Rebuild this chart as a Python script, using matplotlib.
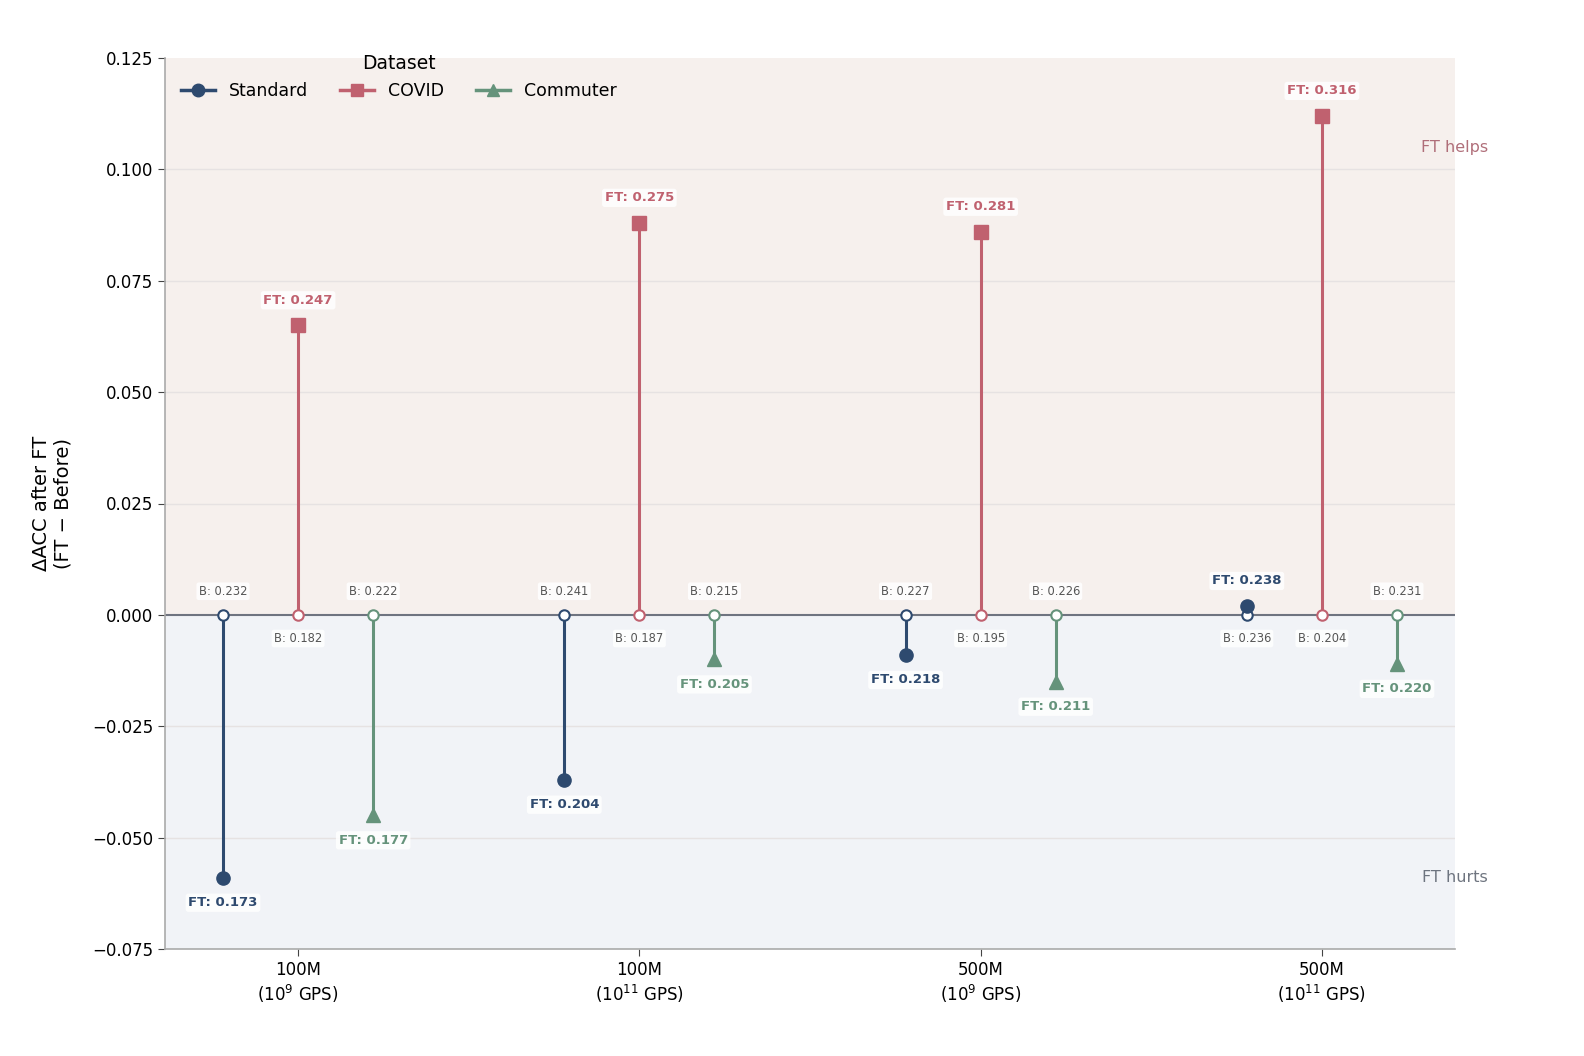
import matplotlib
matplotlib.use("Agg")
import matplotlib.pyplot as plt
import matplotlib.transforms as mtransforms
import numpy as np

groups = ["100M\n($10^{9}$ GPS)", "100M\n($10^{11}$ GPS)", "500M\n($10^{9}$ GPS)", "500M\n($10^{11}$ GPS)"]
datasets = ["Standard", "COVID", "Commuter"]
before = {
    "Standard": [0.232, 0.241, 0.227, 0.236],
    "COVID": [0.182, 0.187, 0.195, 0.204],
    "Commuter": [0.222, 0.215, 0.226, 0.231],
}
after_ft = {
    "Standard": [0.173, 0.204, 0.218, 0.238],
    "COVID": [0.247, 0.275, 0.281, 0.316],
    "Commuter": [0.177, 0.205, 0.211, 0.220],
}
colors = {"Standard": "#2e4a6f", "COVID": "#c0616f", "Commuter": "#65937b"}
markers = {"Standard": "o", "COVID": "s", "Commuter": "^"}
offsets = {"Standard": -0.22, "COVID": 0.0, "Commuter": 0.22}

fig = plt.figure(figsize=(15.84, 10.56), dpi=100)
ax = fig.add_axes([165/1584, 1 - 949/1056, 1290/1584, 891/1056])

ylo, yhi = -0.075, 0.125
ax.axhspan(0, yhi, color="#f6f0ed", zorder=0)
ax.axhspan(ylo, 0, color="#f1f3f7", zorder=0)
for yv in [-0.05, -0.025, 0.025, 0.05, 0.075, 0.1]:
    ax.axhline(yv, color="#e6e2e2", lw=1, zorder=0.5)
ax.axhline(0, color="#6f7480", lw=1.5, zorder=1)

x = np.arange(len(groups))
for ds in datasets:
    b = np.array(before[ds])
    f = np.array(after_ft[ds])
    d = f - b
    xs = x + offsets[ds]
    c = colors[ds]
    for xi, di, bi, fi in zip(xs, d, b, f):
        ax.plot([xi, xi], [0, di], color=c, lw=2.2, zorder=2)
        ax.plot(xi, di, marker=markers[ds], color=c, ms=9.5, zorder=4, ls="none")
        ax.plot(xi, 0, marker="o", mfc="white", mec=c, mew=1.5, ms=7.5, zorder=3, ls="none")
        sgn = 1 if di >= 0 else -1
        ax.annotate(f"FT: {fi:.3f}", (xi, di), xytext=(0, 18 * sgn), textcoords="offset points",
                    ha="center", va="center", fontsize=9.5, fontweight="bold", color=c,
                    bbox=dict(boxstyle="round,pad=0.2", fc="white", ec="none", alpha=0.85), zorder=5)
        ax.annotate(f"B: {bi:.3f}", (xi, 0), xytext=(0, -17 * sgn), textcoords="offset points",
                    ha="center", va="center", fontsize=8.3, color="#555555",
                    bbox=dict(boxstyle="round,pad=0.2", fc="white", ec="none", alpha=0.85), zorder=5)
    ax.plot([], [], color=c, lw=2.5, marker=markers[ds], ms=9, label=ds)

ax.set_xlim(-0.39, 3.39)
ax.set_ylim(ylo, yhi)
ax.set_xticks(x)
ax.set_xticklabels(groups, fontsize=12)
ax.set_yticks([-0.075, -0.05, -0.025, 0, 0.025, 0.05, 0.075, 0.1, 0.125])
ax.yaxis.set_major_formatter(matplotlib.ticker.FuncFormatter(lambda v, p: f"{v:.3f}".replace("-", "\u2212")))
ax.tick_params(axis="y", labelsize=12, color="#444444", length=5)
ax.tick_params(axis="x", color="#444444", length=5)
ax.set_ylabel("\u0394ACC after FT\n(FT \u2212 Before)", fontsize=14, labelpad=14)
for s in ["top", "right"]:
    ax.spines[s].set_visible(False)
for s in ["left", "bottom"]:
    ax.spines[s].set_color("#aaaaaa")
    ax.spines[s].set_linewidth(1.2)

tr = mtransforms.blended_transform_factory(ax.transAxes, ax.transAxes)
ax.text(1.0, 0.9, "FT helps", transform=tr, ha="center", va="center", fontsize=11.5, color="#a8606c", alpha=0.9)
ax.text(1.0, 0.08, "FT hurts", transform=tr, ha="center", va="center", fontsize=11.5, color="#5f6672", alpha=0.9)

leg = ax.legend(title="Dataset", loc="upper left", ncol=3, frameon=False, fontsize=12.5,
                title_fontsize=13.5, bbox_to_anchor=(0.0, 1.022), handlelength=2.0, columnspacing=1.8)

fig.savefig("out.png", dpi=100, facecolor="white")
